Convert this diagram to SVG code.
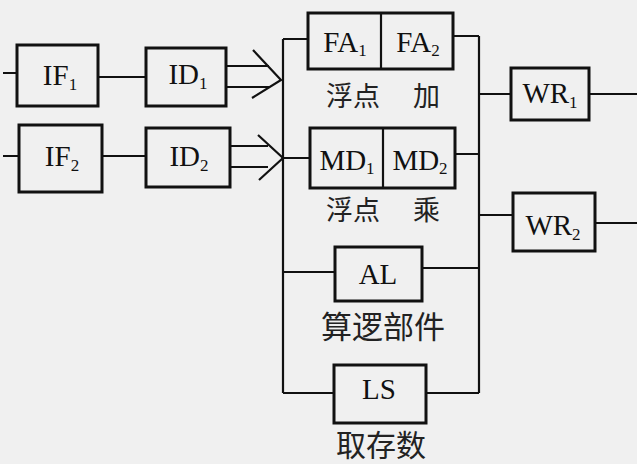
<svg xmlns="http://www.w3.org/2000/svg" width="637" height="464" viewBox="0 0 637 464">
<style>
.bx{fill:none;stroke:#111;stroke-width:3}
.ln{fill:none;stroke:#111;stroke-width:2.2}
.t{font-family:"Liberation Serif","Times New Roman",serif;font-size:29px;fill:#111;text-anchor:middle}
.s{font-size:17px}
.c{font-family:"Noto Sans CJK SC","Noto Sans CJK JP",sans-serif;font-size:27px;fill:#222}
</style>
<rect width="637" height="464" fill="#f0f0f0"/>
<g id="connectors">
<path class="ln" d="M3 73H17 M98 77H146 M3 156H19 M102 156H146"/>
<path class="ln" d="M226 66H269 M226 87H270 M253 50L281 80L252 98"/>
<path class="ln" d="M230 146H268 M230 167H268 M258 135L283 158L259 180 M283 158H310"/>
<path class="ln" d="M283 39V393 M283 39H308 M283 272H335 M283 393H334"/>
<path class="ln" d="M453 36H479 M455 154H479 M422 268H479 M426 393H479 M479 36V393"/>
<path class="ln" d="M479 94H511 M589 94H637 M479 215H513 M595 223H637"/>
</g>
<g id="IF1"><rect class="bx" x="17" y="45" width="81" height="61"/><text class="t" x="60" y="85">IF<tspan class="s" dy="5">1</tspan></text></g>
<g id="IF2"><rect class="bx" x="19" y="125" width="83" height="67"/><text class="t" x="62" y="166">IF<tspan class="s" dy="5">2</tspan></text></g>
<g id="ID1"><rect class="bx" x="146" y="48" width="80" height="58"/><text class="t" x="188" y="84">ID<tspan class="s" dy="5">1</tspan></text></g>
<g id="ID2"><rect class="bx" x="146" y="128" width="84" height="59"/><text class="t" x="189" y="166">ID<tspan class="s" dy="5">2</tspan></text></g>
<g id="FA"><rect class="bx" x="308" y="13" width="145" height="56"/><path class="ln" d="M381 13V69"/>
<text class="t" x="345" y="52">FA<tspan class="s" dy="4">1</tspan></text>
<text class="t" x="418" y="52">FA<tspan class="s" dy="4">2</tspan></text>
<text class="c" x="326" y="106">浮点 <tspan x="413">加</tspan></text></g>
<g id="MD"><rect class="bx" x="310" y="128" width="145" height="60"/><path class="ln" d="M383 128V188"/>
<text class="t" x="347" y="170">MD<tspan class="s" dy="4">1</tspan></text>
<text class="t" x="420" y="170">MD<tspan class="s" dy="4">2</tspan></text>
<text class="c" x="326" y="220">浮点 <tspan x="413">乘</tspan></text></g>
<g id="AL"><rect class="bx" x="335" y="247" width="87" height="54"/><text class="t" x="378" y="284">AL</text>
<text class="c" x="383" y="338" text-anchor="middle" style="font-size:31px">算逻部件</text></g>
<g id="LS"><rect class="bx" x="334" y="365" width="92" height="58"/><text class="t" x="379" y="399">LS</text>
<text class="c" x="381" y="456" text-anchor="middle" style="font-size:30px">取存数</text></g>
<g id="WR1"><rect class="bx" x="511" y="68" width="78" height="52"/><text class="t" x="550" y="103">WR<tspan class="s" dy="5">1</tspan></text></g>
<g id="WR2"><rect class="bx" x="513" y="193" width="82" height="58"/><text class="t" x="553" y="235">WR<tspan class="s" dy="5">2</tspan></text></g>
</svg>
